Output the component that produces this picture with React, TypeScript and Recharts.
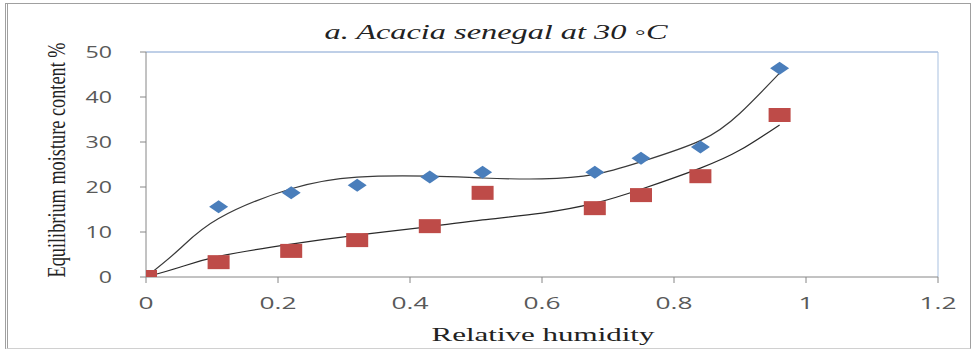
import { ComposedChart, Scatter, Line, XAxis, YAxis, ReferenceLine } from 'recharts';

// measured relative humidity (water activity)
const rh = [0, 0.11, 0.22, 0.32, 0.43, 0.51, 0.68, 0.75, 0.84, 0.96];
const adsorption = [0, 15.6, 18.7, 20.4, 22.2, 23.3, 23.3, 26.4, 28.9, 46.4];
const desorption = [0, 3.3, 5.8, 8.2, 11.3, 18.7, 15.3, 18.2, 22.4, 36.0];

// trend lines
const fitX = [0, 0.05, 0.11, 0.22, 0.32, 0.43, 0.51, 0.6, 0.68, 0.75, 0.84, 0.9, 0.96];
const adsorptionFit = [0, 6.1, 13.0, 19.6, 22.2, 22.4, 22.0, 21.8, 22.8, 25.6, 30.3, 36.4, 45.3];
const desorptionFit = [0, 2.1, 4.6, 7.3, 9.3, 11.2, 12.7, 14.2, 16.4, 19.5, 24.2, 28.2, 33.8];

const xTicks = [0, 0.2, 0.4, 0.6, 0.8, 1, 1.2];
const yTicks = [0, 10, 20, 30, 40, 50];

const title = 'a. Acacia senegal at 30 \u25E6C';
const xLabel = 'Relative humidity';
const yLabel = 'Equilibrium moisture content %';

const toPoints = (xs: number[], ys: number[]) => xs.map((x, i) => ({ x, y: ys[i] }));

const blueData = toPoints(rh, adsorption);
const redData = toPoints(rh, desorption);
const blueFit = toPoints(fitX, adsorptionFit);
const redFit = toPoints(fitX, desorptionFit);

const SANS = '"Open Sans", "Noto Sans", sans-serif';
const SERIF = '"Liberation Serif", "DejaVu Serif", serif';

const Diamond = (p: any) => (
  <path
    d={`M${p.cx - 9.5},${p.cy} L${p.cx},${p.cy - 6.5} L${p.cx + 9.5},${p.cy} L${p.cx},${p.cy + 6.5} Z`}
    fill="#4A7EBB"
  />
);

const Square = (p: any) => (
  <rect x={p.cx - 11} y={p.cy - 7} width={22} height={14} fill="#BE4B48" />
);

const XTick = ({ x, y, payload }: any) => (
  <g transform={`translate(${x},${y}) scale(1.55,1)`}>
    <text textAnchor="middle" dy={12} fontSize={17} fill="#595959" fontFamily={SANS}>
      {payload.value}
    </text>
  </g>
);

const YTick = ({ x, y, payload }: any) => (
  <g transform={`translate(${x},${y}) scale(1.45,1)`}>
    <text textAnchor="end" dy={6} fontSize={16} fill="#595959" fontFamily={SANS}>
      {payload.value}
    </text>
  </g>
);

export default function App() {
  return (
    <div style={{ position: 'absolute', left: 0, top: 0, width: 976, height: 353, background: '#fff' }}>
      <div
        style={{
          position: 'absolute', left: 5, top: 3, width: 962, height: 344,
          borderTop: '1px solid #a0a0a0', borderBottom: '1px solid #d0d0d0',
          borderLeft: '3px double #a0a0a0', borderRight: '1px solid #a0a0a0',
        }}
      />
      <ComposedChart
        width={976}
        height={353}
        margin={{ top: 52, right: 38, left: 86, bottom: 46 }}
        style={{ position: 'absolute', left: 0, top: 0 }}
      >
        <XAxis
          dataKey="x"
          type="number"
          domain={[0, 1.2]}
          ticks={xTicks}
          height={30}
          stroke="#868686"
          tickSize={6}
          tickMargin={14}
          tick={<XTick />}
          allowDataOverflow
        />
        <YAxis
          type="number"
          domain={[0, 50]}
          ticks={yTicks}
          width={60}
          stroke="#868686"
          tickSize={6}
          tickMargin={28}
          tick={<YTick />}
          allowDataOverflow
        />
        <ReferenceLine y={50} stroke="#7F9FCF" strokeWidth={1} />
        <ReferenceLine x={1.2} stroke="#A9C1E0" strokeWidth={1} />
        <Scatter data={blueData} dataKey="y" shape={Diamond} isAnimationActive={false} />
        <Scatter data={redData} dataKey="y" shape={Square} isAnimationActive={false} />
        <Line data={blueFit} dataKey="y" type="natural" stroke="#3A3A3A" strokeWidth={1.2} dot={false} isAnimationActive={false} />
        <Line data={redFit} dataKey="y" type="natural" stroke="#2A2A2A" strokeWidth={1.2} dot={false} isAnimationActive={false} />
      </ComposedChart>
      <svg width={976} height={353} style={{ position: 'absolute', left: 0, top: 0, pointerEvents: 'none' }}>
        <text x={496} y={39} textAnchor="middle" fontSize={20} fontStyle="italic" fontFamily={SERIF} fill="#222" textLength={343} lengthAdjust="spacingAndGlyphs">
          {title}
        </text>
        <text x={543} y={341} textAnchor="middle" fontSize={19} fontFamily={SERIF} fill="#222" textLength={223} lengthAdjust="spacingAndGlyphs">
          {xLabel}
        </text>
        <g transform="translate(65,160) scale(1.5,1) rotate(-90)">
          <text x={0} y={0} textAnchor="middle" fontSize={17} fontFamily={SERIF} fill="#222" textLength={235} lengthAdjust="spacingAndGlyphs">
            {yLabel}
          </text>
        </g>
      </svg>
    </div>
  );
}
